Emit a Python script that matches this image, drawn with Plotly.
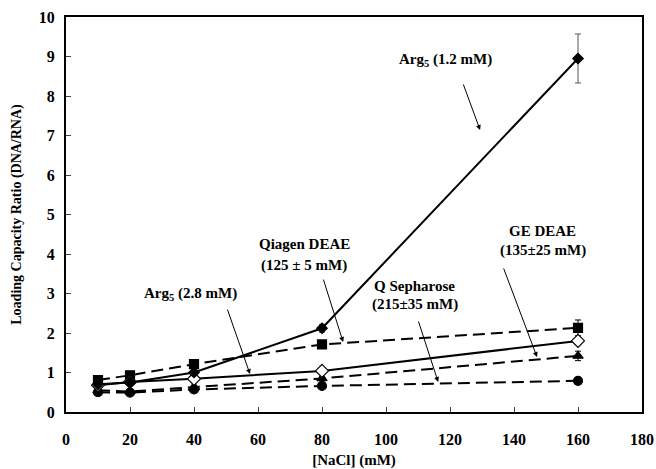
import plotly.graph_objects as go

nacl = [10, 20, 40, 80, 160]

arg5_12 = [0.70, 0.75, 1.00, 2.12, 8.95]
arg5_12_err = [0.05, 0.05, 0.08, 0.10, 0.62]

qiagen = [0.81, 0.93, 1.21, 1.71, 2.13]
qiagen_err = [0.06, 0.08, 0.10, 0.10, 0.20]

arg5_28 = [0.68, 0.76, 0.84, 1.04, 1.80]
arg5_28_err = [0.04, 0.05, 0.05, 0.05, 0.08]

ge_deae = [0.55, 0.52, 0.63, 0.85, 1.42]
ge_deae_err = [0.05, 0.04, 0.05, 0.05, 0.12]

q_seph = [0.50, 0.49, 0.57, 0.66, 0.79]
q_seph_err = [0.04, 0.03, 0.04, 0.04, 0.04]

x_ticks = [0, 20, 40, 60, 80, 100, 120, 140, 160, 180]
y_ticks = list(range(0, 11))

font_family = "Liberation Serif, Times New Roman, serif"

fig = go.Figure()

def add_series(y, err, symbol, dash, size, fill="black", ecolor="black"):
    fig.add_trace(go.Scatter(
        x=nacl, y=y, mode="lines+markers",
        line=dict(color="black", width=2, dash=dash),
        marker=dict(symbol=symbol, size=size, color=fill,
                    line=dict(color="black", width=1.2)),
        error_y=dict(type="data", array=err, visible=True,
                     color=ecolor, thickness=1, width=3),
        showlegend=False,
    ))

add_series(q_seph, q_seph_err, "circle", "12px,6px", 9)
add_series(ge_deae, ge_deae_err, "triangle-up", "12px,6px", 9)
add_series(qiagen, qiagen_err, "square", "12px,6px", 9)
add_series(arg5_28, arg5_28_err, "diamond", "solid", 10, fill="white")
add_series(arg5_12, arg5_12_err, "diamond", "solid", 8, ecolor="#555")

labels = [
    # text, x, y
    ("<b>Arg<sub>5</sub> (1.2 mM)</b>", 118.5, 8.9),
    ("<b>Qiagen DEAE</b>", 74.5, 4.25),
    ("<b>(125 ± 5 mM)</b>", 74.5, 3.72),
    ("<b>Arg<sub>5</sub> (2.8 mM)</b>", 39.0, 3.0),
    ("<b>GE DEAE</b>", 149.0, 4.58),
    ("<b>(135±25 mM)</b>", 149.0, 4.1),
    ("<b>Q Sepharose</b>", 109.0, 3.19),
    ("<b>(215±35 mM)</b>", 109.0, 2.71),
]
for t, x, y in labels:
    fig.add_annotation(x=x, y=y, text=t, showarrow=False,
                       font=dict(family=font_family, size=15, color="black"))

arrows = [
    # head x, head y, tail x, tail y
    (129.4, 7.14, 124.0, 8.33),
    (86.6, 1.77, 80.3, 3.39),
    (57.5, 0.96, 50.3, 2.63),
    (147.2, 1.39, 136.6, 3.67),
    (116.3, 0.76, 110.0, 2.33),
]
for hx, hy, tx, ty in arrows:
    fig.add_annotation(x=hx, y=hy, ax=tx, ay=ty, xref="x", yref="y",
                       axref="x", ayref="y", text="", showarrow=True,
                       arrowhead=2, arrowsize=1, arrowwidth=1,
                       arrowcolor="black")

fig.update_layout(
    width=656, height=469,
    margin=dict(l=66, r=14, t=17, b=57),
    paper_bgcolor="white", plot_bgcolor="white",
    font=dict(family=font_family, size=15, color="black"),
    xaxis=dict(range=[0, 180], tickmode="array", tickvals=x_ticks,
               ticktext=[f"<b>{v}</b>" for v in x_ticks],
               ticks="inside", ticklen=5,
               showline=True, linecolor="black", linewidth=2, mirror=True,
               showgrid=False, zeroline=False, automargin=False,
               ticklabelstandoff=12,
               tickfont=dict(family=font_family, size=16),
               title=dict(text="<b>[NaCl] (mM)</b>", standoff=10,
                          font=dict(family=font_family, size=15))),
    yaxis=dict(range=[0, 10], tickmode="array", tickvals=y_ticks,
               ticktext=[f"<b>{v}</b>" for v in y_ticks],
               ticks="inside", ticklen=5,
               showline=True, linecolor="black", linewidth=2, mirror=True,
               showgrid=False, zeroline=False, automargin=False,
               ticklabelstandoff=6,
               tickfont=dict(family=font_family, size=16),
               title=dict(text="<b>Loading Capacity Ratio (DNA/RNA)</b>", standoff=14,
                          font=dict(family=font_family, size=14))),
)

fig.write_html("out.html")
